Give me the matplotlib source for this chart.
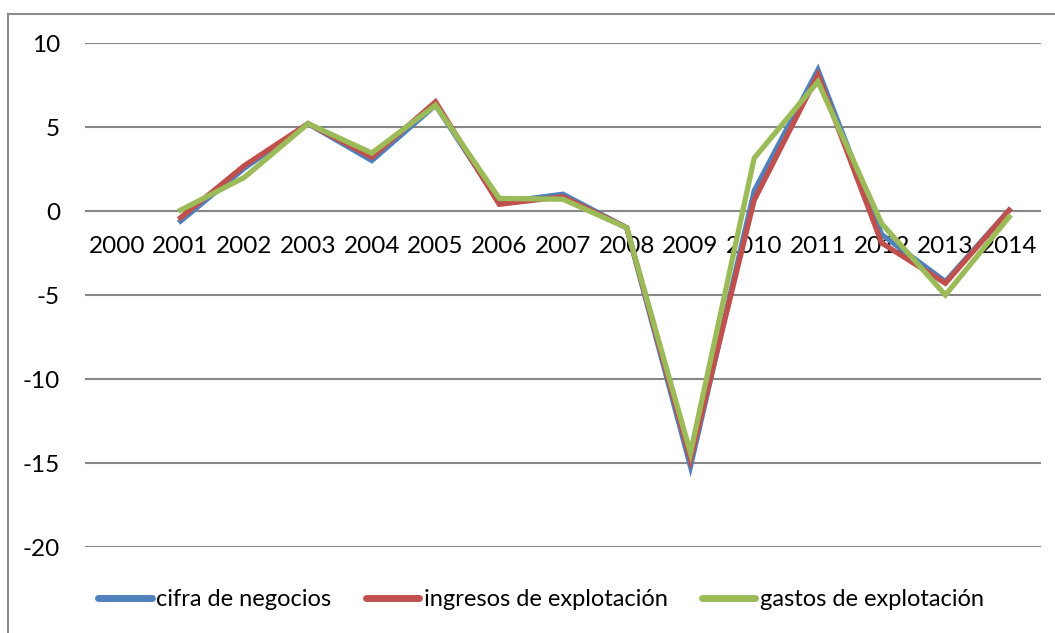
import matplotlib.pyplot as plt
from matplotlib.lines import Line2D

plt.rcParams['font.family'] = ['Lato', 'DejaVu Sans']

years = ['2000', '2001', '2002', '2003', '2004', '2005', '2006', '2007',
         '2008', '2009', '2010', '2011', '2012', '2013', '2014']

# values start in 2001 (2000 is empty)
cifra = [None, -0.6, 2.55, 5.2, 3.0, 6.3, 0.5, 1.0,
         -1.0, -15.2, 1.2, 8.4, -1.4, -4.2, 0.05]
ingresos = [None, -0.4, 2.7, 5.2, 3.2, 6.5, 0.4, 0.85,
            -1.0, -14.8, 0.65, 8.1, -1.9, -4.3, 0.05]
gastos = [None, 0.05, 2.0, 5.2, 3.45, 6.3, 0.75, 0.7,
          -1.0, -14.4, 3.15, 7.7, -0.75, -5.0, -0.35]

names = ['cifra de negocios', 'ingresos de explotación', 'gastos de explotación']
colors = ['#4F81BD', '#C0504D', '#9BBB59']

fig = plt.figure(figsize=(10.55, 6.33), dpi=100)
ax = fig.add_axes([85 / 1055, 1 - 547 / 633, (1041 - 85) / 1055, (547 - 43) / 633])

x = list(range(len(years)))
for series, name, c in zip([cifra, ingresos, gastos], names, colors):
    xs = [i for i, v in zip(x, series) if v is not None]
    ys = [v for v in series if v is not None]
    ax.plot(xs, ys, color=c, lw=3.8, label=name, solid_joinstyle='miter')

ax.set_xlim(-0.5, len(years) - 0.5)
ax.set_ylim(-20, 10)
ax.set_yticks([10, 5, 0, -5, -10, -15, -20])
ax.set_yticklabels(['10', '5', '0', '-5', '-10', '-15', '-20'])
ax.yaxis.grid(True, color='#868686', lw=1.5)
ax.set_axisbelow(True)

ax.set_xticks(x)
ax.set_xticklabels(years)
ax.spines['bottom'].set_position(('data', 0))
for s in ['top', 'right', 'left', 'bottom']:
    ax.spines[s].set_visible(False)
ax.tick_params(axis='x', length=0, pad=18, labelsize=17.5)
ax.tick_params(axis='y', length=0, pad=18, labelsize=17.5)

leg = fig.legend(loc='center', bbox_to_anchor=(541 / 1055, 1 - 600 / 633), ncol=3,
                 frameon=False, fontsize=17, handlelength=2.25, handletextpad=0.2,
                 columnspacing=1.45)
for h in leg.get_lines():
    h.set_linewidth(5)
    h.set_solid_capstyle('round')

# outer chart border (left and top only visible)
fig.add_artist(Line2D([8 / 1055, 8 / 1055], [0, 1 - 14 / 633], color='#8c8c8c', lw=1.5))
fig.add_artist(Line2D([8 / 1055, 1], [1 - 14 / 633, 1 - 14 / 633], color='#8c8c8c', lw=1.5))

fig.savefig('out.png', dpi=100)
